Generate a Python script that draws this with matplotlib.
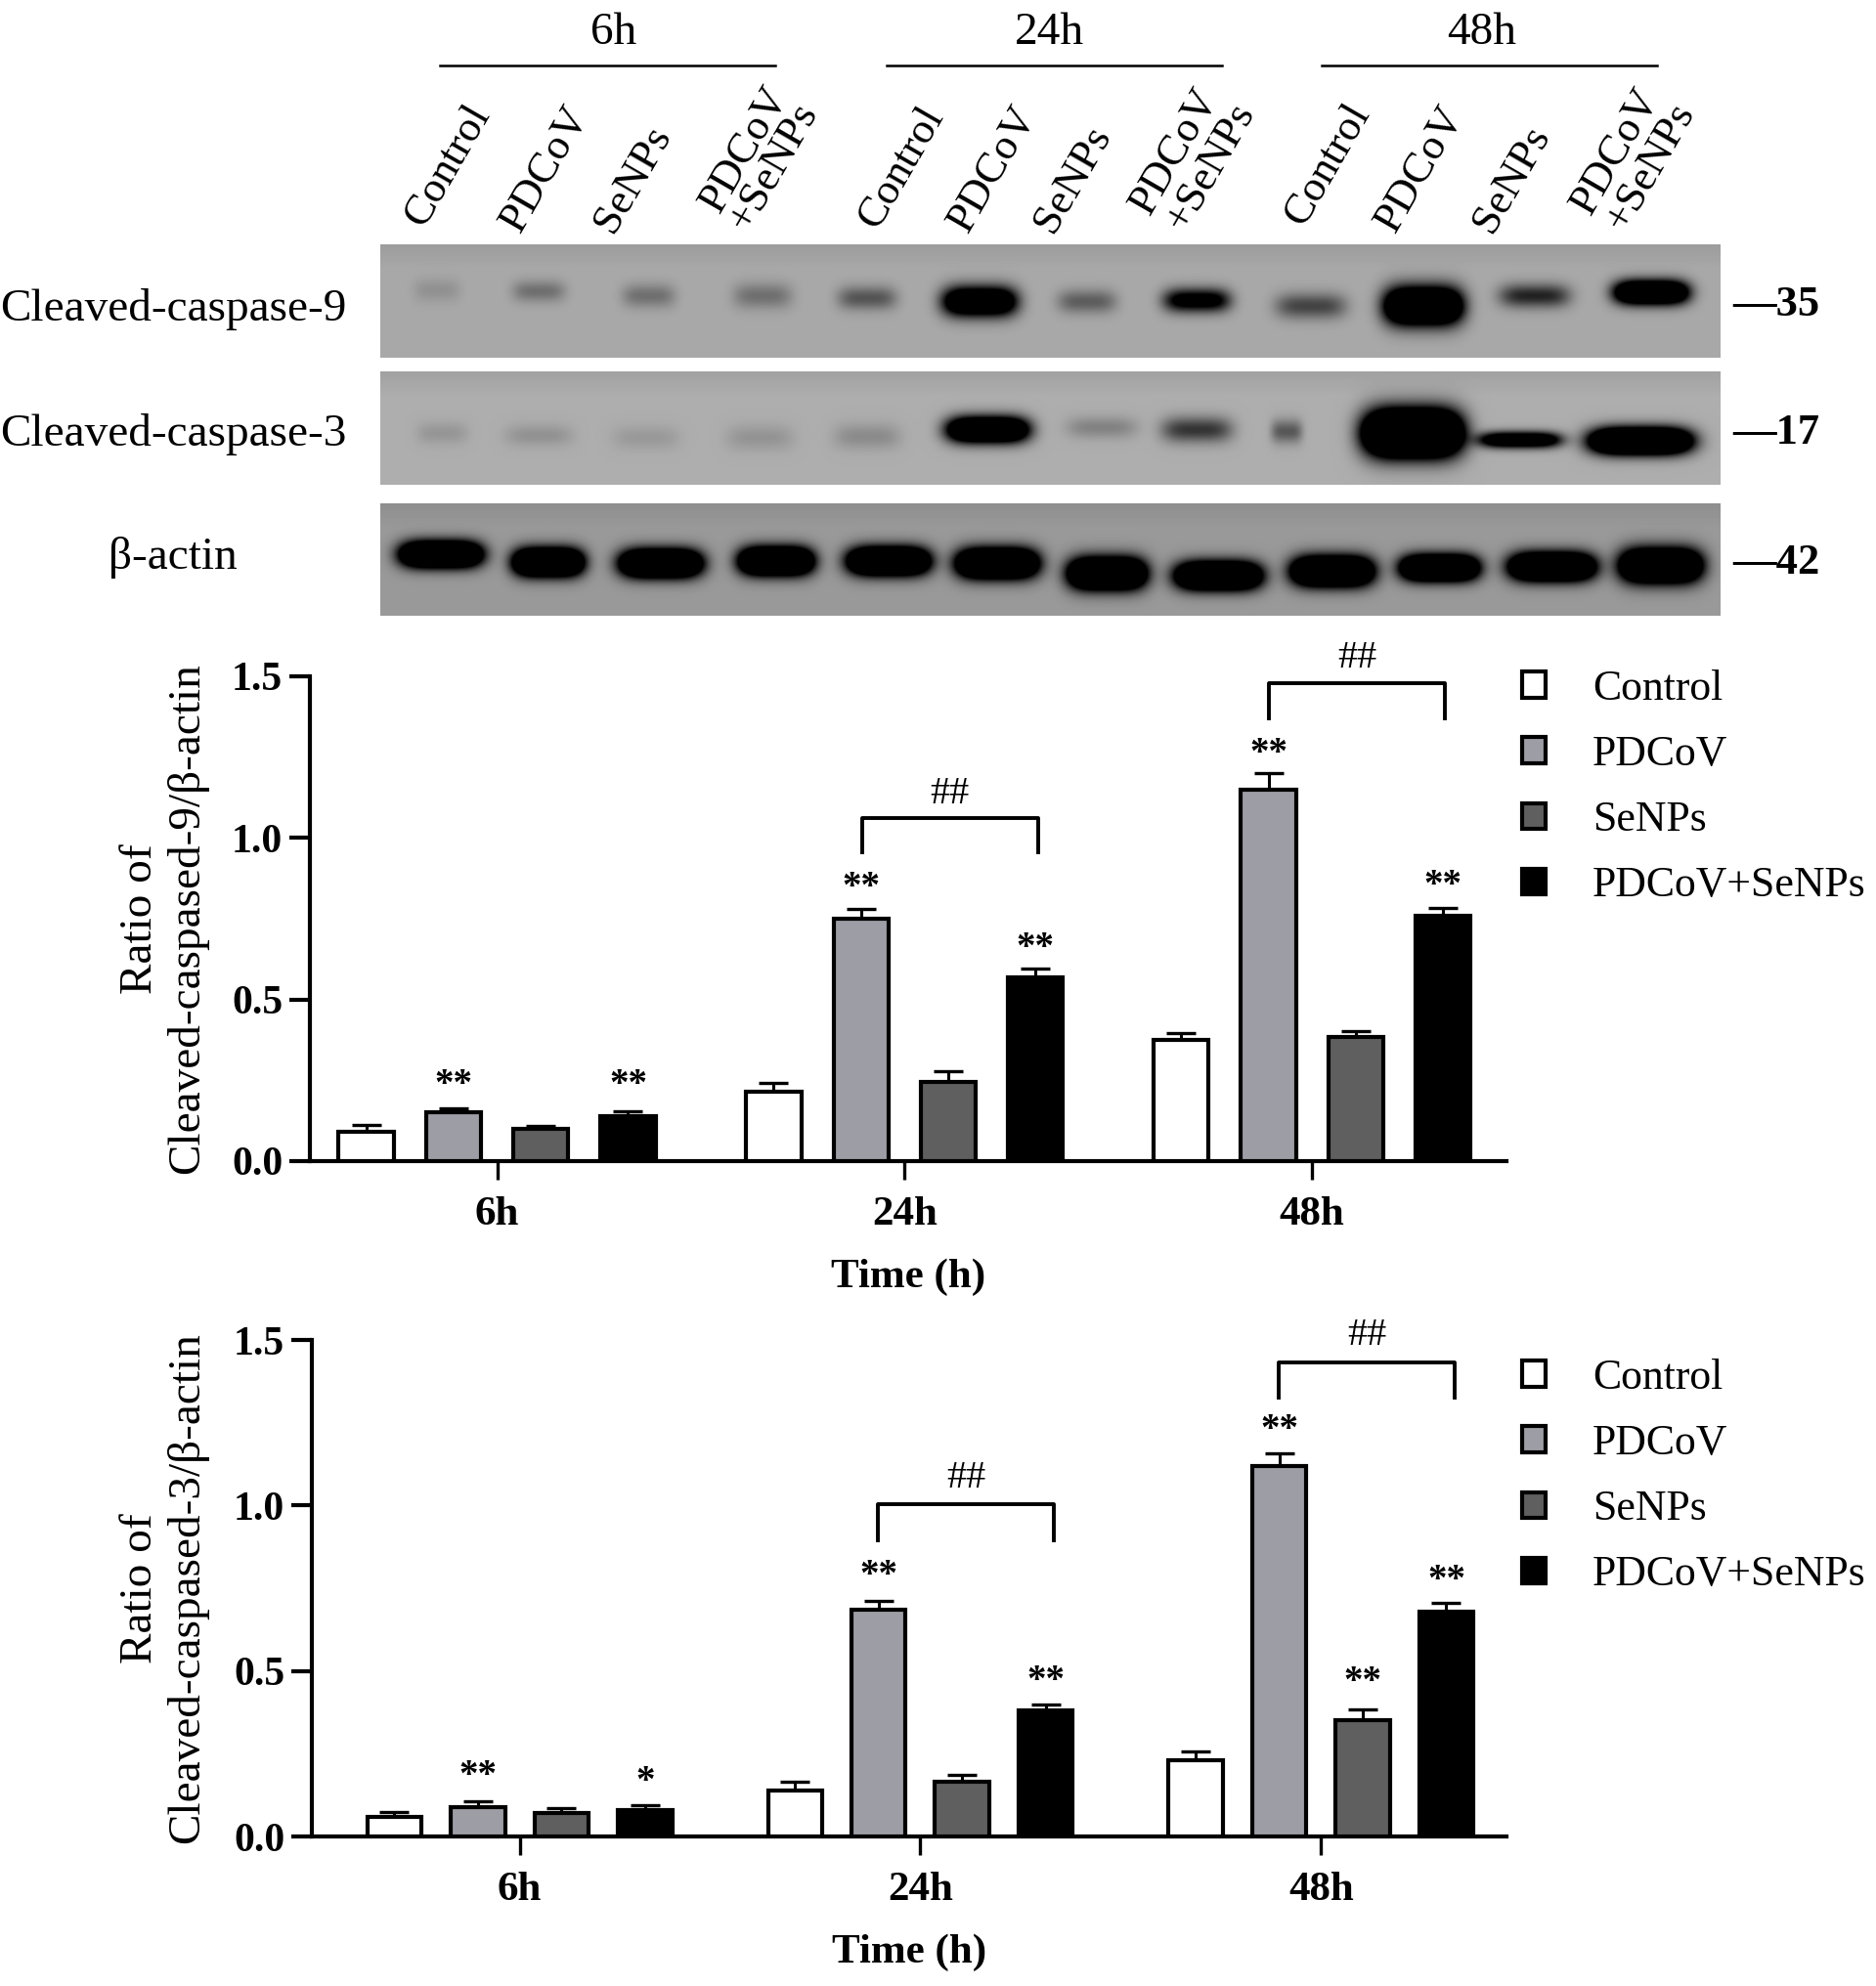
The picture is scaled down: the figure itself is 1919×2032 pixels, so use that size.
import numpy as np
import matplotlib
matplotlib.use('Agg')
import matplotlib.pyplot as plt
from matplotlib.patches import Patch

plt.rcParams['font.family'] = ['Liberation Serif', 'DejaVu Serif']

W, H = 1919, 2032

groups = ['6h', '24h', '48h']
treatments = ['Control', 'PDCoV', 'SeNPs', 'PDCoV+SeNPs']
colors = ['white', '#9d9da5', '#5f5f5f', 'black']
yticks = [0.0, 0.5, 1.0, 1.5]

# chart values, one row per time point
casp9 = [[0.09, 0.15, 0.10, 0.14], [0.215, 0.75, 0.245, 0.57], [0.375, 1.15, 0.385, 0.76]]
casp9_err = [[0.022, 0.012, 0.008, 0.014], [0.027, 0.03, 0.032, 0.025], [0.022, 0.05, 0.017, 0.022]]
casp3 = [[0.06, 0.09, 0.07, 0.08], [0.14, 0.685, 0.165, 0.38], [0.23, 1.12, 0.35, 0.68]]
casp3_err = [[0.014, 0.015, 0.015, 0.015], [0.024, 0.028, 0.022, 0.02], [0.028, 0.038, 0.034, 0.026]]

# significance marks: group, bar, label, height
casp9_stars = [(0, 1, '**', 0.256), (0, 3, '**', 0.256), (1, 1, '**', 0.869), (1, 3, '**', 0.68),
               (2, 1, '**', 1.283), (2, 3, '**', 0.873)]
casp3_stars = [(0, 1, '**', 0.203), (0, 3, '*', 0.187), (1, 1, '**', 0.808), (1, 3, '**', 0.49),
               (2, 1, '**', 1.248), (2, 2, '**', 0.489), (2, 3, '**', 0.796)]
# brackets: group, top, bottom
casp9_brackets = [(1, 1.063, 0.955), (2, 1.479, 1.371)]
casp3_brackets = [(1, 1.004, 0.896), (2, 1.432, 1.326)]

# blot bands, fractions of the panel, darkness > 1 saturates
band9_x = [.042, .118, .2, .285, .363, .447, .527, .609, .694, .778, .861, .948]
band9_y = [.40, .41, .45, .45, .47, .5, .5, .49, .54, .54, .45, .42]
band9_d = [.14, .34, .34, .34, .5, 2.0, .45, 1.3, .6, 2.6, .8, 2.4]
band9_w = [24, 27, 27, 30, 30, 38, 30, 34, 36, 40, 36, 38]
band9_h = [12, 11, 12, 13, 12, 15, 12, 12, 13, 19, 12, 12]
band3_x = [.046, .118, .198, .283, .363, .453, .538, .609, .676, .770, .850, .940]
band3_y = [.54, .56, .58, .58, .57, .51, .49, .51, .525, .54, .6, .61]
band3_d = [.14, .16, .12, .15, .2, 2.4, .25, .7, .5, 3.5, 1.8, 3.0]
band3_w = [26, 34, 34, 34, 34, 42, 36, 36, 16, 50, 42, 52]
band3_h = [11, 11, 12, 13, 13, 13, 11, 13, 12, 23, 8, 13]
actin_x = [.045, .125, .209, .295, .379, .460, .542, .625, .710, .790, .874, .955]
actin_y = [.45, .52, .53, .51, .51, .53, .62, .64, .6, .57, .56, .55]
actin_d = [3.0] * 12
actin_w = [42, 36, 42, 38, 42, 42, 40, 44, 42, 40, 44, 42]
actin_h = [13, 14, 14, 14, 14, 15, 16, 14, 15, 13, 14, 17]
blot_bg = [0.66, 0.68, 0.60]

fig = plt.figure(figsize=(W / 100, H / 100), dpi=100)
page = fig.add_axes([0, 0, 1, 1])
page.set_xlim(0, W)
page.set_ylim(H, 0)
page.axis('off')


def blot(top, bottom, bg, xs, ys, ds, ws, hs):
	left, right = 389, 1760
	px, py = np.meshgrid(np.arange(left, right), np.arange(top, bottom))
	dark = np.zeros(px.shape)
	for x, y, d, w, h in zip(xs, ys, ds, ws, hs):
		cx = left + x * (right - left)
		cy = top + y * (bottom - top)
		dark += d * np.exp(-((px - cx) / w) ** 4 - ((py - cy) / h) ** 2)
	shade = bg * (0.93 + 0.07 * np.minimum((py - top) / 25, 1))
	img = shade * (1 - np.clip(dark, 0, 1))
	page.imshow(img, cmap='gray', vmin=0, vmax=1, extent=(left, right, bottom, top),
				aspect='auto', interpolation='bilinear')


blot(250, 366, blot_bg[0], band9_x, band9_y, band9_d, band9_w, band9_h)
blot(380, 496, blot_bg[1], band3_x, band3_y, band3_d, band3_w, band3_h)
blot(515, 630, blot_bg[2], actin_x, actin_y, actin_d, actin_w, actin_h)
page.set_xlim(0, W)
page.set_ylim(H, 0)

# time header above the blots
for name, x0, x1, tx in zip(groups, [450, 907, 1352], [793, 1250, 1695], [628, 1073, 1516]):
	page.plot([x0, x1], [67, 67], color='black', lw=1.8)
	page.text(tx, 34, name, fontsize=34, ha='center', va='center')

# slanted lane labels
lane_text = ['Control', 'PDCoV', 'SeNPs', 'PDCoV', '+SeNPs'] * 3
lane_x = [433, 532, 627, 736, 765, 897, 990, 1077, 1176, 1212, 1333, 1427, 1526, 1627, 1662]
lane_y = [234, 240, 240, 220, 238, 236, 240, 240, 222, 238, 233, 240, 240, 222, 238]
for t, x, y in zip(lane_text, lane_x, lane_y):
	page.text(x, y, t, fontsize=32, rotation=60, rotation_mode='anchor', ha='left', va='baseline')

for t, x, y, ha in [('Cleaved-caspase-9', 0, 316, 'left'), ('Cleaved-caspase-3', 0, 444, 'left'),
					('β-actin', 177, 571, 'center')]:
	page.text(x, y, t, fontsize=34, ha=ha, va='center')
for t, y in [('—35', 312), ('—17', 443), ('—42', 576)]:
	page.text(1772, y, t, fontsize=32, fontweight='bold', ha='left', va='center')


def chart(rect, xlim, step, width, values, errs, stars, brackets, br_off, hash_y, ylabel, legend_y):
	left, right, y0, y1 = rect
	ax = fig.add_axes([left / W, 1 - y0 / H, (right - left) / W, (y0 - y1) / H])
	ax.patch.set_alpha(0)
	offs = (np.arange(4) - 1.5) * step
	for b in range(4):
		xs = np.arange(3) + offs[b]
		vals = [row[b] for row in values]
		err = [row[b] for row in errs]
		ax.errorbar(xs, vals, yerr=[np.zeros(3), err], fmt='none', ecolor='black',
					elinewidth=2.2, capsize=11, capthick=2.4, zorder=2)
		ax.bar(xs, vals, width, color=colors[b], edgecolor='black', linewidth=3, zorder=3)
	for g, b, t, y in stars:
		# the asterisk sits high in the font, so pull it down a little
		ax.annotate(t, (g + offs[b], y), xytext=(0, -5.5), textcoords='offset points',
					fontsize=28, fontweight='bold', ha='center', va='center')
	for (g, top, bot), hy in zip(brackets, hash_y):
		xa, xb = g + br_off[0], g + br_off[1]
		ax.plot([xa, xa, xb, xb], [bot, top, top, bot], color='black', lw=2.8, clip_on=False)
		ax.text((xa + xb) / 2, hy, '##', fontsize=29, ha='center', va='center')
	ax.set_xlim(*xlim)
	ax.set_ylim(0, 1.5)
	ax.set_xticks(range(3), groups)
	ax.set_yticks(yticks, ['%.1f' % v for v in yticks])
	for s in ['top', 'right']:
		ax.spines[s].set_visible(False)
	for s in ['left', 'bottom']:
		ax.spines[s].set_linewidth(3)
	ax.tick_params(axis='x', length=14, width=2.4, pad=12, labelsize=31)
	ax.tick_params(axis='y', length=15, width=3, pad=5, labelsize=30)
	for lab in ax.get_xticklabels() + ax.get_yticklabels():
		lab.set_fontweight('bold')
	ax.set_xlabel('Time (h)', fontsize=31, fontweight='bold', labelpad=18)
	page.text(168, (y0 + y1) / 2, ylabel, fontsize=34, rotation=90, ha='center', va='center',
			  linespacing=1.17)
	handles = [Patch(facecolor=c, edgecolor='black', linewidth=3) for c in colors]
	fig.legend(handles, treatments, loc='upper left', bbox_to_anchor=(1557 / W, 1 - legend_y / H),
			   frameon=False, fontsize=31.5, handlelength=0.55, handleheight=0.55, handletextpad=1.1,
			   labelspacing=0.62, borderpad=0, borderaxespad=0)
	return ax


chart((317, 1541, 1188, 692), (-0.4595, 2.477), 0.2142, 0.135, casp9, casp9_err, casp9_stars,
	  casp9_brackets, (-0.105, 0.327), [1.135, 1.555], 'Ratio of\nCleaved-caspased-9/β-actin', 685)
chart((319, 1541, 1879, 1371), (-0.519, 2.463), 0.2086, 0.1354, casp3, casp3_err, casp3_stars,
	  casp3_brackets, (-0.105, 0.333), [1.082, 1.512], 'Ratio of\nCleaved-caspased-3/β-actin', 1390)

fig.savefig('out.png', dpi=100)
